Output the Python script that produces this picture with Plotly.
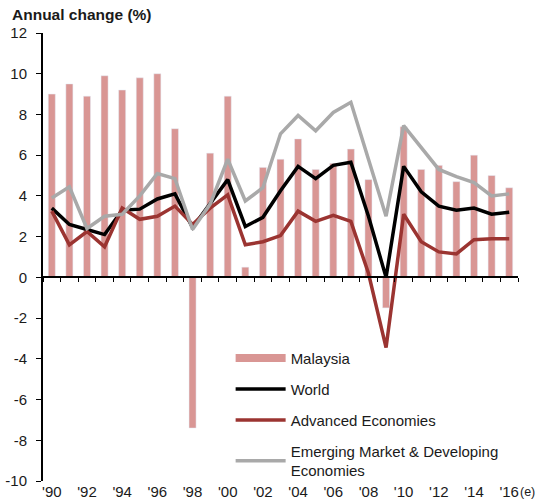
import plotly.graph_objects as go

years = list(range(1990, 2017))
malaysia = [9.0, 9.5, 8.9, 9.9, 9.2, 9.8, 10.0, 7.3, -7.4, 6.1, 8.9, 0.5, 5.4, 5.8, 6.8,
            5.3, 5.6, 6.3, 4.8, -1.5, 7.4, 5.3, 5.5, 4.7, 6.0, 5.0, 4.4]
world = [3.4, 2.6, 2.35, 2.1, 3.3, 3.35, 3.85, 4.1, 2.45, 3.6, 4.8, 2.5, 2.95, 4.25, 5.45,
         4.85, 5.5, 5.65, 3.0, 0.0, 5.45, 4.2, 3.5, 3.3, 3.4, 3.1, 3.2]
advanced = [3.25, 1.6, 2.25, 1.5, 3.4, 2.85, 3.0, 3.5, 2.6, 3.4, 4.05, 1.6, 1.75, 2.05, 3.25,
            2.75, 3.05, 2.75, 0.2, -3.45, 3.1, 1.75, 1.25, 1.15, 1.85, 1.9, 1.9]
emerging = [3.9, 4.45, 2.4, 3.0, 3.1, 4.0, 5.1, 4.85, 2.35, 3.6, 5.8, 3.75, 4.4, 7.05, 7.95,
            7.2, 8.1, 8.6, 5.8, 3.0, 7.45, 6.35, 5.3, 4.95, 4.65, 4.0, 4.1]
label_years = list(range(1990, 2017, 2))
tick_labels = ["'%02d" % (y % 100) for y in label_years]
y_ticks = list(range(-10, 13, 2))
y_tick_labels = [str(v) for v in y_ticks]

PINK = "#d99694"
DARKRED = "#9b3431"
GREY = "#a9a9a9"
FONT = "Liberation Sans, Arial, sans-serif"
TXT = "#1a1a1a"

fig = go.Figure()
fig.add_trace(go.Bar(x=years, y=malaysia, marker_color=PINK, width=0.4,
                     showlegend=False, name="Malaysia"))
fig.add_trace(go.Scatter(x=[None], y=[None], mode="lines", name="Malaysia",
                         line=dict(color=PINK, width=8), legendgroup="a"))
fig.add_trace(go.Scatter(x=years, y=world, mode="lines", name="World",
                         line=dict(color="black", width=3.5), legendgroup="b"))
fig.add_trace(go.Scatter(x=years, y=advanced, mode="lines", name="Advanced Economies",
                         line=dict(color=DARKRED, width=3.5), legendgroup="c"))
fig.add_trace(go.Scatter(x=years, y=emerging, mode="lines",
                         name="Emerging Market & Developing<br>Economies",
                         line=dict(color=GREY, width=3.5), legendgroup="d"))
# invisible trace on overlay axis to activate it
fig.add_trace(go.Scatter(x=[None], y=[None], xaxis="x2", showlegend=False, hoverinfo="skip"))

fig.update_layout(
    width=540, height=499,
    margin=dict(l=43, r=22, t=33, b=18, autoexpand=False),
    plot_bgcolor="white", paper_bgcolor="white",
    font=dict(family=FONT, size=15, color=TXT),
    title=dict(text="<b>Annual change (%)</b>", x=12 / 540, xref="container", xanchor="left",
               y=1 - 15 / 499, yref="container", yanchor="middle",
               font=dict(family=FONT, size=15.5, color=TXT)),
    xaxis=dict(range=[1989.5, 2016.5], tickmode="array", tickvals=label_years,
               ticktext=tick_labels, showline=False, ticks="", showgrid=False,
               zeroline=False, tickfont=dict(size=15), ticklabelstandoff=0,
               automargin=False),
    xaxis2=dict(range=[1989.5, 2016.5], overlaying="x", anchor="free", position=10 / 22,
                side="bottom", showline=True, linecolor="black", linewidth=2,
                ticks="outside", ticklen=4, tickwidth=1, tickcolor="black",
                tick0=1989.5, dtick=1, showticklabels=False, showgrid=False, zeroline=False,
                automargin=False),
    yaxis=dict(range=[-10, 12], tickmode="array", tickvals=y_ticks, ticktext=y_tick_labels,
               showline=True, linecolor="black", linewidth=2, ticks="outside", ticklen=5,
               tickcolor="black", showgrid=False, zeroline=False, tickfont=dict(size=15),
               ticklabelstandoff=6, automargin=False),
    legend=dict(x=0.395, y=0.311, xanchor="left", yanchor="top", bgcolor="rgba(0,0,0,0)",
                font=dict(family=FONT, size=15, color=TXT), tracegroupgap=8.5,
                itemwidth=50),
    bargap=0.6,
)
fig.add_annotation(text="(e)", x=1, xref="paper", xanchor="left", y=0, yref="paper",
                   yanchor="top", yshift=-2, xshift=0, showarrow=False,
                   font=dict(family=FONT, size=12.5, color=TXT))

fig.write_html("out.html", config={"displayModeBar": False},
               post_script="document.body.style.margin='0';")
